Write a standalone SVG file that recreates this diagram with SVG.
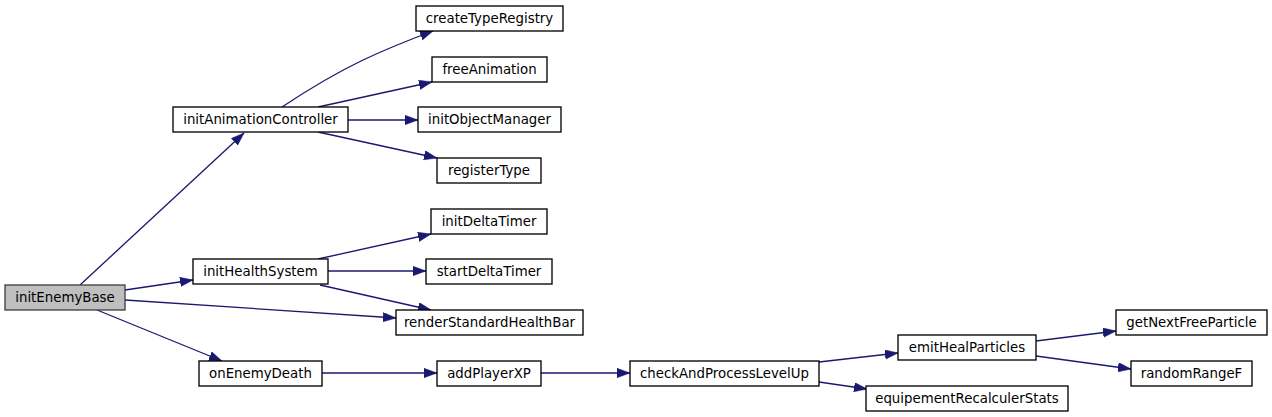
<svg xmlns="http://www.w3.org/2000/svg" width="1272" height="417" viewBox="0 0 1272 417">
<style>
.n rect{fill:#ffffff;stroke:#000000;stroke-width:1.33}
.n.h rect{fill:#bfbfbf;stroke:#404040}
.n text{font-family:"DejaVu Sans",sans-serif;font-size:13.33px;fill:#000000;text-anchor:middle}
.e path{fill:none;stroke:#191970;stroke-width:1.33;marker-end:url(#ah)}
</style>
<defs>
<marker id="ah" markerUnits="userSpaceOnUse" markerWidth="14" markerHeight="10" refX="13" refY="4.7" orient="auto">
<path d="M0,0 L13,4.7 L0,9.4 z" fill="#191970" stroke="#191970" stroke-width="0.5"/>
</marker>
</defs>
<rect x="0" y="0" width="1272" height="417" fill="#ffffff"/>
<g id="edges" class="e">
<path d="M80,285 L244,133"/>
<path d="M125,290 L193,280"/>
<path d="M125,300 L396,318"/>
<path d="M97,310 L222,361"/>
<path d="M282,107 C303,93 334,74 363,60 C380,52 398,44 433,31"/>
<path d="M318,107 L432,82"/>
<path d="M348,120 L418,120"/>
<path d="M318,132 L437,158"/>
<path d="M318,259 L431,234"/>
<path d="M328,271 L426,271"/>
<path d="M320,285 L431,310"/>
<path d="M322,373 L437,373"/>
<path d="M541,373 L630,373"/>
<path d="M819,362 L898,353"/>
<path d="M819,382 L867,389"/>
<path d="M1036,341 L1116,331"/>
<path d="M1036,356 L1131,369"/>
</g>
<g id="initEnemyBase" class="n h"><rect x="5" y="285" width="120" height="25"/><text x="65" y="302">initEnemyBase</text></g>
<g id="initAnimationController" class="n"><rect x="173" y="107" width="175" height="25"/><text x="260.5" y="124">initAnimationController</text></g>
<g id="createTypeRegistry" class="n"><rect x="416" y="6" width="147" height="25"/><text x="489.5" y="23">createTypeRegistry</text></g>
<g id="freeAnimation" class="n"><rect x="432" y="57" width="115" height="25"/><text x="489.5" y="74">freeAnimation</text></g>
<g id="initObjectManager" class="n"><rect x="418" y="107" width="143" height="25"/><text x="489.5" y="124">initObjectManager</text></g>
<g id="registerType" class="n"><rect x="437" y="158" width="104" height="25"/><text x="489" y="175">registerType</text></g>
<g id="initHealthSystem" class="n"><rect x="193" y="259" width="135" height="25"/><text x="260.5" y="276">initHealthSystem</text></g>
<g id="initDeltaTimer" class="n"><rect x="431" y="209" width="116" height="25"/><text x="489" y="226">initDeltaTimer</text></g>
<g id="startDeltaTimer" class="n"><rect x="426" y="259" width="126" height="25"/><text x="489" y="276">startDeltaTimer</text></g>
<g id="renderStandardHealthBar" class="n"><rect x="396" y="310" width="187" height="25"/><text x="489.5" y="327">renderStandardHealthBar</text></g>
<g id="onEnemyDeath" class="n"><rect x="199" y="361" width="123" height="25"/><text x="260.5" y="378">onEnemyDeath</text></g>
<g id="addPlayerXP" class="n"><rect x="437" y="361" width="104" height="25"/><text x="489" y="378">addPlayerXP</text></g>
<g id="checkAndProcessLevelUp" class="n"><rect x="630" y="361" width="189" height="25"/><text x="724.5" y="378">checkAndProcessLevelUp</text></g>
<g id="emitHealParticles" class="n"><rect x="898" y="335" width="138" height="25"/><text x="967" y="352">emitHealParticles</text></g>
<g id="equipementRecalculerStats" class="n"><rect x="866" y="386" width="202" height="25"/><text x="967" y="403">equipementRecalculerStats</text></g>
<g id="getNextFreeParticle" class="n"><rect x="1116" y="310" width="151" height="25"/><text x="1191.5" y="327">getNextFreeParticle</text></g>
<g id="randomRangeF" class="n"><rect x="1131" y="361" width="121" height="25"/><text x="1191.5" y="378">randomRangeF</text></g>
</svg>
